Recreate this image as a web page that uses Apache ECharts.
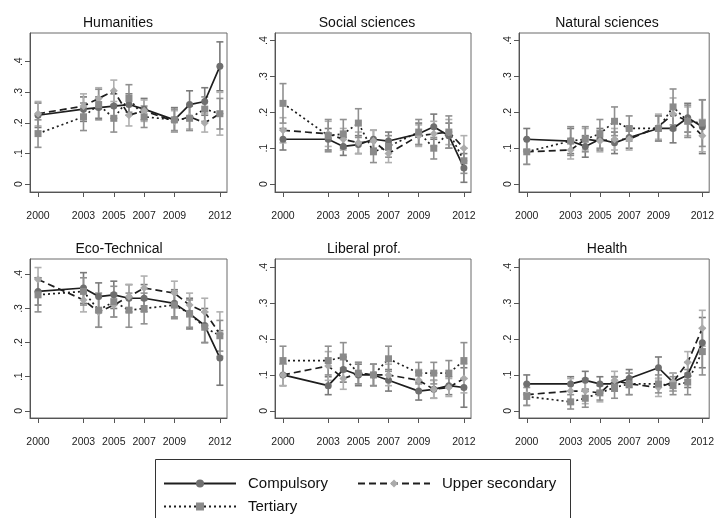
<!DOCTYPE html>
<html><head><meta charset="utf-8">
<script src="https://cdn.jsdelivr.net/npm/echarts@6/dist/echarts.min.js"></script>
<style>html,body{margin:0;padding:0;background:#fff}#c{width:717px;height:518px}</style>
</head><body><div id="c"></div>
<script>
const years = [2000, 2003, 2004, 2005, 2006, 2007, 2009, 2010, 2011, 2012];
const xTickValues = [2000, 2003, 2005, 2007, 2009, 2012];
const yTickValues = [0, 0.1, 0.2, 0.3, 0.4];
const yTickLabels = ['0', '.1', '.2', '.3', '.4'];
const seriesNames = ['Compulsory', 'Upper secondary', 'Tertiary'];
const panelTitles = ['Humanities', 'Social sciences', 'Natural sciences', 'Eco-Technical', 'Liberal prof.', 'Health'];

// Humanities
const humCompulsory    = [0.225, 0.245, 0.25, 0.255, 0.26, 0.245, 0.21, 0.26, 0.27, 0.385];
const humCompulsoryErr = [0.04, 0.04, 0.035, 0.04, 0.035, 0.035, 0.04, 0.045, 0.045, 0.08];
const humUpper         = [0.23, 0.255, 0.28, 0.305, 0.225, 0.24, 0.205, 0.22, 0.2, 0.23];
const humUpperErr      = [0.04, 0.04, 0.035, 0.035, 0.035, 0.035, 0.035, 0.04, 0.03, 0.07];
const humTertiary      = [0.165, 0.22, 0.26, 0.215, 0.28, 0.22, 0.21, 0.215, 0.245, 0.23];
const humTertiaryErr   = [0.045, 0.045, 0.05, 0.045, 0.045, 0.035, 0.035, 0.04, 0.04, 0.05];
// Social sciences
const socCompulsory    = [0.125, 0.125, 0.105, 0.11, 0.125, 0.12, 0.14, 0.16, 0.135, 0.045];
const socCompulsoryErr = [0.03, 0.03, 0.025, 0.025, 0.025, 0.025, 0.03, 0.035, 0.035, 0.04];
const socUpper         = [0.15, 0.14, 0.125, 0.115, 0.12, 0.085, 0.135, 0.14, 0.145, 0.1];
const socUpperErr      = [0.035, 0.035, 0.03, 0.03, 0.03, 0.025, 0.03, 0.035, 0.035, 0.035];
const socTertiary      = [0.225, 0.135, 0.14, 0.17, 0.09, 0.105, 0.145, 0.1, 0.145, 0.065];
const socTertiaryErr   = [0.055, 0.045, 0.04, 0.04, 0.03, 0.03, 0.035, 0.03, 0.045, 0.035];
// Natural sciences
const natCompulsory    = [0.125, 0.12, 0.105, 0.125, 0.115, 0.13, 0.155, 0.155, 0.185, 0.16];
const natCompulsoryErr = [0.03, 0.035, 0.03, 0.03, 0.03, 0.03, 0.035, 0.04, 0.04, 0.075];
const natUpper         = [0.09, 0.095, 0.125, 0.12, 0.125, 0.125, 0.16, 0.195, 0.175, 0.135];
const natUpperErr      = [0.035, 0.025, 0.03, 0.03, 0.03, 0.03, 0.035, 0.045, 0.04, 0.045];
const natTertiary      = [0.09, 0.12, 0.125, 0.14, 0.175, 0.155, 0.155, 0.215, 0.175, 0.17];
const natTertiaryErr   = [0.035, 0.04, 0.035, 0.04, 0.04, 0.035, 0.035, 0.05, 0.045, 0.065];
// Eco-Technical
const ecoCompulsory    = [0.35, 0.36, 0.335, 0.34, 0.33, 0.33, 0.315, 0.285, 0.25, 0.155];
const ecoCompulsoryErr = [0.04, 0.045, 0.04, 0.04, 0.04, 0.04, 0.04, 0.045, 0.05, 0.08];
const ecoUpper         = [0.385, 0.325, 0.29, 0.31, 0.335, 0.36, 0.345, 0.31, 0.29, 0.225];
const ecoUpperErr      = [0.035, 0.035, 0.045, 0.035, 0.035, 0.035, 0.035, 0.035, 0.04, 0.065];
const ecoTertiary      = [0.34, 0.35, 0.295, 0.32, 0.295, 0.3, 0.31, 0.285, 0.245, 0.22];
const ecoTertiaryErr   = [0.05, 0.04, 0.05, 0.045, 0.05, 0.045, 0.04, 0.04, 0.045, 0.045];
// Liberal prof.
const libCompulsory    = [0.1, 0.07, 0.115, 0.1, 0.1, 0.085, 0.055, 0.06, 0.07, 0.065];
const libCompulsoryErr = [0.03, 0.025, 0.035, 0.03, 0.03, 0.03, 0.025, 0.025, 0.025, 0.055];
const libUpper         = [0.1, 0.125, 0.09, 0.105, 0.1, 0.1, 0.085, 0.06, 0.065, 0.09];
const libUpperErr      = [0.03, 0.04, 0.03, 0.03, 0.03, 0.03, 0.03, 0.025, 0.025, 0.04];
const libTertiary      = [0.14, 0.14, 0.15, 0.105, 0.1, 0.145, 0.105, 0.105, 0.105, 0.14];
const libTertiaryErr   = [0.04, 0.04, 0.04, 0.03, 0.03, 0.035, 0.03, 0.03, 0.035, 0.05];
// Health
const heaCompulsory    = [0.075, 0.075, 0.085, 0.075, 0.075, 0.09, 0.12, 0.08, 0.1, 0.19];
const heaCompulsoryErr = [0.025, 0.02, 0.025, 0.02, 0.02, 0.025, 0.03, 0.025, 0.035, 0.07];
const heaUpper         = [0.045, 0.055, 0.055, 0.05, 0.085, 0.075, 0.065, 0.08, 0.135, 0.23];
const heaUpperErr      = [0.03, 0.035, 0.035, 0.025, 0.025, 0.03, 0.025, 0.025, 0.03, 0.05];
const heaTertiary      = [0.04, 0.025, 0.035, 0.05, 0.065, 0.075, 0.075, 0.07, 0.08, 0.165];
const heaTertiaryErr   = [0.025, 0.02, 0.025, 0.02, 0.03, 0.03, 0.025, 0.025, 0.035, 0.065];

const panelData = [
  [[humCompulsory, humCompulsoryErr], [humUpper, humUpperErr], [humTertiary, humTertiaryErr]],
  [[socCompulsory, socCompulsoryErr], [socUpper, socUpperErr], [socTertiary, socTertiaryErr]],
  [[natCompulsory, natCompulsoryErr], [natUpper, natUpperErr], [natTertiary, natTertiaryErr]],
  [[ecoCompulsory, ecoCompulsoryErr], [ecoUpper, ecoUpperErr], [ecoTertiary, ecoTertiaryErr]],
  [[libCompulsory, libCompulsoryErr], [libUpper, libUpperErr], [libTertiary, libTertiaryErr]],
  [[heaCompulsory, heaCompulsoryErr], [heaUpper, heaUpperErr], [heaTertiary, heaTertiaryErr]]
];

// layout & style
const FONT = 'Liberation Sans, Arial, sans-serif';
const gridLefts = [30, 275, 519];
const gridWidths = [197, 196, 197];
const gridTops = [33, 259];
const gridHeight = 159;
const yRanges = [[-0.026, 0.494], [-0.022, 0.421], [-0.022, 0.421], [-0.021, 0.445], [-0.02, 0.423], [-0.02, 0.423]];
const titleCenters = [[118, 23], [367, 23], [607, 23], [119, 249], [364, 249], [607, 249]];
const markerColors = ['#6f6f6f', '#ababab', '#8a8a8a'];
const errColors = ['#7a7a7a', '#b0b0b0', '#909090'];
const symbols = ['circle', 'diamond', 'rect'];
const symbolSizes = [7, 8, 7];
const lineTypes = ['solid', [7, 4], [2, 3]];

const grids = [], xAxes = [], yAxes = [], series = [], graphics = [];
for (let i = 0; i < 6; i++) {
  const col = i % 3, row = Math.floor(i / 3);
  grids.push({left: gridLefts[col], top: gridTops[row], width: gridWidths[col], height: gridHeight,
    show: true, borderColor: '#6a6a6a', borderWidth: 1, backgroundColor: 'transparent'});
  xAxes.push({type: 'value', gridIndex: i, min: 1999.47, max: 2012.47,
    axisLine: {show: true, onZero: false, lineStyle: {color: '#555', width: 1}},
    axisTick: {show: true, length: 5, customValues: xTickValues, lineStyle: {color: '#555'}},
    axisLabel: {customValues: xTickValues, margin: 19, fontSize: 10.5, fontFamily: FONT, color: '#222', formatter: v => String(v)},
    splitLine: {show: false}});
  yAxes.push({type: 'value', gridIndex: i, min: yRanges[i][0], max: yRanges[i][1],
    axisLine: {show: true, onZero: false, lineStyle: {color: '#555', width: 1}},
    axisTick: {show: true, length: 5, customValues: yTickValues, lineStyle: {color: '#555'}},
    axisLabel: {customValues: yTickValues, rotate: 90, margin: 5, fontSize: 10.5, fontFamily: FONT, color: '#222',
      formatter: v => yTickLabels[yTickValues.findIndex(t => Math.abs(t - v) < 1e-6)] || ''},
    splitLine: {show: false}});
  graphics.push({type: 'text', x: titleCenters[i][0], y: titleCenters[i][1],
    style: {text: panelTitles[i], font: '14px ' + FONT, fill: '#111', textAlign: 'center', textVerticalAlign: 'middle'}});
  for (let s = 0; s < 3; s++) {
    const vals = panelData[i][s][0], errs = panelData[i][s][1];
    const ec = errColors[s];
    series.push({type: 'custom', xAxisIndex: i, yAxisIndex: i, silent: true, z: 1,
      encode: {x: 0, y: [1, 2]},
      data: years.map((y, k) => [y, vals[k] - errs[k], vals[k] + errs[k]]),
      renderItem: (params, api) => {
        const lo = api.coord([api.value(0), api.value(1)]);
        const hi = api.coord([api.value(0), api.value(2)]);
        const w = 3.5;
        const st = {stroke: ec, lineWidth: 1.6};
        return {type: 'group', children: [
          {type: 'line', shape: {x1: lo[0], y1: lo[1], x2: hi[0], y2: hi[1]}, style: st},
          {type: 'line', shape: {x1: lo[0] - w, y1: lo[1], x2: lo[0] + w, y2: lo[1]}, style: st},
          {type: 'line', shape: {x1: hi[0] - w, y1: hi[1], x2: hi[0] + w, y2: hi[1]}, style: st}
        ]};
      }});
  }
  for (let s = 0; s < 3; s++) {
    const vals = panelData[i][s][0];
    series.push({type: 'line', name: seriesNames[s], xAxisIndex: i, yAxisIndex: i, z: 3,
      data: years.map((y, k) => [y, vals[k]]),
      symbol: symbols[s], symbolSize: symbolSizes[s], showSymbol: true,
      itemStyle: {color: markerColors[s], borderWidth: 0},
      lineStyle: {color: '#1e1e1e', width: 1.7, type: lineTypes[s]},
      emphasis: {disabled: true}});
  }
}
graphics.push({type: 'rect', shape: {x: 155.5, y: 459.5, width: 415, height: 80},
  style: {fill: 'none', stroke: '#333', lineWidth: 1}, z: 0});

const legendBase = {orient: 'horizontal', padding: 0, itemWidth: 72, itemHeight: 10, selectedMode: false,
  textStyle: {fontSize: 15, fontFamily: FONT, color: '#111', padding: [0, 0, 0, 7]}};
const chart = echarts.init(document.getElementById('c'), null, {renderer: 'canvas'});
chart.setOption({
  animation: false,
  backgroundColor: '#fff',
  grid: grids, xAxis: xAxes, yAxis: yAxes, series: series, graphic: graphics,
  legend: [
    Object.assign({}, legendBase, {left: 163, top: 476, data: ['Compulsory']}),
    Object.assign({}, legendBase, {left: 357, top: 476, data: ['Upper secondary']}),
    Object.assign({}, legendBase, {left: 163, top: 499, data: ['Tertiary']})
  ]
});
</script></body></html>
